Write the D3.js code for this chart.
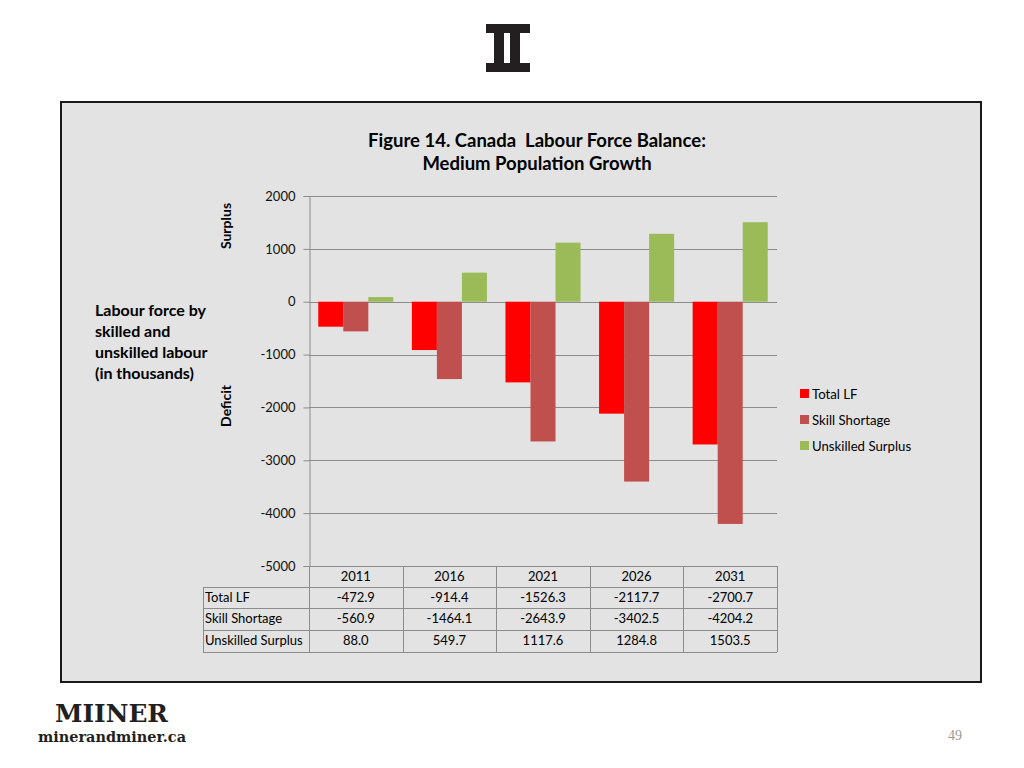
<!DOCTYPE html>
<html>
<head>
<meta charset="utf-8">
<script src="https://cdn.jsdelivr.net/npm/d3@7"></script>
<style>
  body { margin: 0; background: #fff; }
</style>
</head>
<body>
<svg id="chart" width="1024" height="768" font-family="Lato, 'Liberation Sans', sans-serif"></svg>
<script>
// data
var years = ["2011", "2016", "2021", "2026", "2031"];
var seriesNames = ["Total LF", "Skill Shortage", "Unskilled Surplus"];
var totalLF = [-472.9, -914.4, -1526.3, -2117.7, -2700.7];
var skillShortage = [-560.9, -1464.1, -2643.9, -3402.5, -4204.2];
var unskilledSurplus = [88.0, 549.7, 1117.6, 1284.8, 1503.5];
var yTicks = [2000, 1000, 0, -1000, -2000, -3000, -4000, -5000];

var series = [totalLF, skillShortage, unskilledSurplus];
var colors = ["#ff0000", "#c0504d", "#9bbb59"];

var svg = d3.select("#chart");

// slide logo (roman II)
var logo = svg.append("g").attr("fill", "#231f20");
logo.append("rect").attr("x", 486).attr("y", 24).attr("width", 44).attr("height", 9);
logo.append("rect").attr("x", 486).attr("y", 63).attr("width", 44).attr("height", 9);
logo.append("rect").attr("x", 494).attr("y", 30).attr("width", 10).attr("height", 36);
logo.append("rect").attr("x", 510).attr("y", 30).attr("width", 10).attr("height", 36);

// frame
svg.append("rect")
    .attr("x", 61).attr("y", 102)
    .attr("width", 920).attr("height", 580)
    .attr("fill", "#e3e3e3")
    .attr("stroke", "#1a1a1a")
    .attr("stroke-width", 2);

// title
svg.append("text").attr("x", 537).attr("y", 147)
    .attr("text-anchor", "middle").attr("font-size", 18.5).attr("font-weight", "bold")
    .style("white-space", "pre")
    .text("Figure 14. Canada  Labour Force Balance:");
svg.append("text").attr("x", 537).attr("y", 170)
    .attr("text-anchor", "middle").attr("font-size", 18.5).attr("font-weight", "bold")
    .text("Medium Population Growth");

// scales
var x = d3.scaleBand().domain(years).range([309, 777]);
var y = d3.scaleLinear().domain([-5000, 2000]).range([566, 196]);
var xs = d3.scaleBand().domain(d3.range(series.length)).range([0, x.bandwidth()]).paddingOuter(0.37);

// gridlines
svg.append("g").selectAll("line")
    .data(yTicks)
  .enter().append("line")
    .attr("x1", 309).attr("x2", 777)
    .attr("y1", function(d) { return Math.round(y(d)) + 0.5; })
    .attr("y2", function(d) { return Math.round(y(d)) + 0.5; })
    .attr("stroke", "#8c8c8c");

// y axis
var yAxis = svg.append("g")
    .attr("transform", "translate(309.5,0)")
    .call(d3.axisLeft(y).tickValues(yTicks).tickSize(6).tickPadding(8)
      .tickFormat(function(d) { return String(d); }));
yAxis.select(".domain").attr("stroke", "#8c8c8c");
yAxis.selectAll(".tick line").attr("stroke", "#8c8c8c");
yAxis.selectAll(".tick text")
    .attr("font-size", 13).attr("fill", "#111")
    .attr("font-family", null);
yAxis.attr("font-family", null).attr("font-size", null);

// bars
series.forEach(function(vals, i) {
  svg.append("g").selectAll("rect")
      .data(vals)
    .enter().append("rect")
      .attr("x", function(d, j) { return x(years[j]) + xs(i); })
      .attr("width", xs.bandwidth())
      .attr("y", function(d) { return y(Math.max(0, d)); })
      .attr("height", function(d) { return Math.abs(y(d) - y(0)); })
      .attr("fill", colors[i]);
});

// side labels
svg.append("text").attr("transform", "translate(231,226) rotate(-90)")
    .attr("text-anchor", "middle").attr("font-size", 14).attr("font-weight", "bold")
    .text("Surplus");
svg.append("text").attr("transform", "translate(231,406) rotate(-90)")
    .attr("text-anchor", "middle").attr("font-size", 14).attr("font-weight", "bold")
    .text("Deficit");
var leftLines = ["Labour force by", "skilled and", "unskilled labour", "(in thousands)"];
svg.append("g").selectAll("text")
    .data(leftLines)
  .enter().append("text")
    .attr("x", 95).attr("y", function(d, i) { return 316 + i * 21; })
    .attr("font-size", 16).attr("font-weight", "bold")
    .text(function(d) { return d; });

// legend
var legend = svg.append("g").selectAll("g")
    .data(seriesNames)
  .enter().append("g")
    .attr("transform", function(d, i) { return "translate(800," + (389 + i * 26) + ")"; });
legend.append("rect").attr("width", 9).attr("height", 9)
    .attr("fill", function(d, i) { return colors[i]; });
legend.append("text").attr("x", 12).attr("y", 9.5)
    .attr("font-size", 13.2).text(function(d) { return d; });

// data table
var rowY = [566, 587, 608, 630, 652];
var tbl = svg.append("g").attr("stroke", "#8c8c8c").attr("fill", "none");
// horizontal lines
tbl.append("line").attr("x1", 309).attr("x2", 777).attr("y1", rowY[0] + 0.5).attr("y2", rowY[0] + 0.5);
rowY.slice(1).forEach(function(r) {
  tbl.append("line").attr("x1", 203).attr("x2", 777).attr("y1", r + 0.5).attr("y2", r + 0.5);
});
// vertical lines
tbl.append("line").attr("x1", 203.5).attr("x2", 203.5).attr("y1", rowY[1]).attr("y2", rowY[4]);
years.forEach(function(yr) {
  tbl.append("line").attr("x1", Math.round(x(yr)) + 0.5).attr("x2", Math.round(x(yr)) + 0.5)
      .attr("y1", rowY[0]).attr("y2", rowY[4]);
});
tbl.append("line").attr("x1", 777.5).attr("x2", 777.5).attr("y1", rowY[0]).attr("y2", rowY[4]);

// header years
svg.append("g").selectAll("text")
    .data(years)
  .enter().append("text")
    .attr("x", function(d) { return x(d) + x.bandwidth() / 2; })
    .attr("y", rowY[0] + 15)
    .attr("text-anchor", "middle").attr("font-size", 13)
    .text(function(d) { return d; });

series.forEach(function(vals, i) {
  svg.append("text")
      .attr("x", 205).attr("y", rowY[i + 1] + 15)
      .attr("font-size", 13)
      .text(seriesNames[i]);
  svg.append("g").selectAll("text")
      .data(vals)
    .enter().append("text")
      .attr("x", function(d, j) { return x(years[j]) + x.bandwidth() / 2; })
      .attr("y", rowY[i + 1] + 15)
      .attr("text-anchor", "middle").attr("font-size", 13)
      .text(function(d) { return d.toFixed(1); });
});

// footer
svg.append("text").attr("x", 55).attr("y", 722)
    .attr("font-family", "'DejaVu Serif', serif").attr("font-weight", "bold")
    .attr("font-size", 25).attr("fill", "#231f20")
    .attr("textLength", 113).attr("lengthAdjust", "spacingAndGlyphs")
    .text("MIINER");
svg.append("text").attr("x", 38).attr("y", 742)
    .attr("font-family", "'DejaVu Serif', serif").attr("font-weight", "bold")
    .attr("font-size", 15).attr("fill", "#231f20")
    .attr("textLength", 148).attr("lengthAdjust", "spacingAndGlyphs")
    .text("minerandminer.ca");
svg.append("text").attr("x", 955).attr("y", 740)
    .attr("text-anchor", "middle")
    .attr("font-family", "'Liberation Serif', serif")
    .attr("font-size", 14).attr("fill", "#999")
    .text("49");
</script>
</body>
</html>
